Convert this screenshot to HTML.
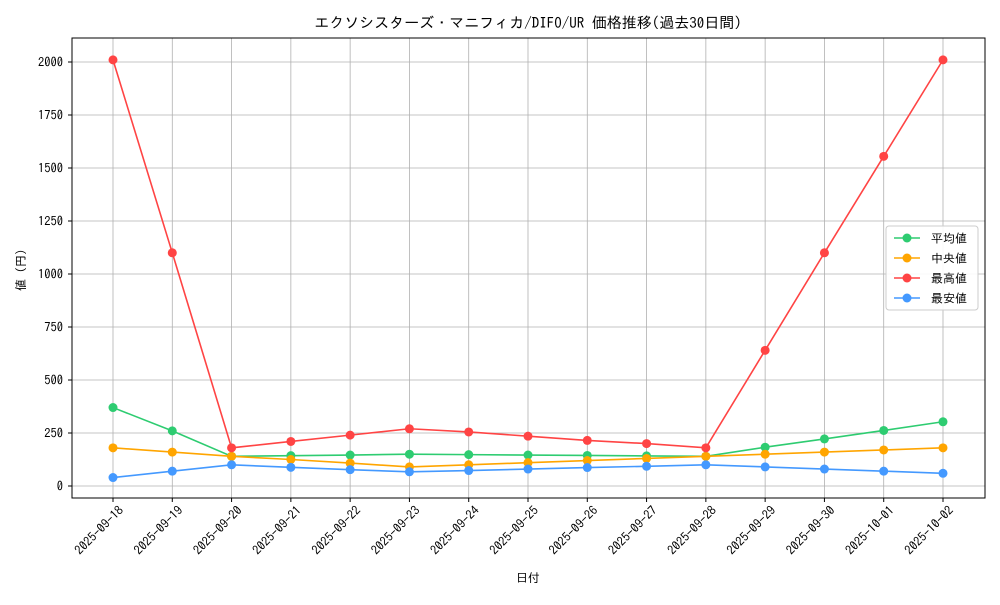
<!DOCTYPE html>
<html><head><meta charset="utf-8"><style>
body{margin:0;background:#fff;}
svg text{font-family:"IPAGothic","Liberation Sans","Noto Sans CJK JP",sans-serif;fill:#000;}
</style></head><body>
<svg id="chart" width="1000" height="600" xmlns="http://www.w3.org/2000/svg">
<rect width="1000" height="600" fill="#fff"/>
<text x="528" y="28" font-size="15" text-anchor="middle">エクソシスターズ・マニフィカ/DIFO/UR 価格推移(過去30日間)</text>
<g id="grid"></g>
<g id="series"></g>
<rect x="72" y="38" width="913" height="460" fill="none" stroke="#000" stroke-width="1"/>
<g id="ticks"></g>
<text x="528" y="582" font-size="12" text-anchor="middle">日付</text>
<text transform="translate(25,270) rotate(-90)" font-size="12" text-anchor="middle">値 (円)</text>
<g id="legend"></g>
</svg>
<script>
const categories=["2025-09-18","2025-09-19","2025-09-20","2025-09-21","2025-09-22","2025-09-23","2025-09-24","2025-09-25","2025-09-26","2025-09-27","2025-09-28","2025-09-29","2025-09-30","2025-10-01","2025-10-02"];
const avgValues=[370,260,140,143,146,150,148,146,144,142,140,183,222,262,303];
const medianValues=[180,160,140,125,108,90,100,110,120,130,140,150,160,170,180];
const maxValues=[2010,1100,180,210,240,270,255,235,215,200,180,640,1100,1555,2010];
const minValues=[40,70,100,88,77,67,73,80,87,93,100,90,80,70,60];
const yTicks=[0,250,500,750,1000,1250,1500,1750,2000];
const seriesNames=["平均値","中央値","最高値","最安値"];
const seriesColors=["#2ecc71","#ffa500","#ff4444","#4499ff"];

const NS="http://www.w3.org/2000/svg";
function xs(i){return 113+i*(943-113)/(categories.length-1);}
function ys(v){return 486-v*(486-62)/2000;}
function mk(tag,attrs,parent){const e=document.createElementNS(NS,tag);for(const k in attrs)e.setAttribute(k,attrs[k]);parent.appendChild(e);return e;}
const grid=document.getElementById('grid'),ticks=document.getElementById('ticks'),series=document.getElementById('series'),legend=document.getElementById('legend');
categories.forEach((c,i)=>{
  const x=xs(i);
  const g=mk('line',{x1:x,x2:x,y1:38,y2:498,stroke:'#b0b0b0','stroke-width':0.8},grid);
  
  
  const t=mk('line',{x1:x,x2:x,y1:498,y2:502,stroke:'#000'},ticks);
  
  
  const l=mk('text',{transform:`translate(${x+5},${505}) rotate(-45)`,'font-size':12.5,'text-anchor':'end','dominant-baseline':'hanging'},ticks);
  l.textContent=c;
  
  
});
yTicks.forEach(v=>{
  const y=ys(v);
  const g=mk('line',{x1:72,x2:985,y1:y,y2:y,stroke:'#b0b0b0','stroke-width':0.8},grid);
  
  
  const t=mk('line',{x1:68,x2:72,y1:y,y2:y,stroke:'#000'},ticks);
  
  
  const l=mk('text',{x:63,y:y+4.5,'font-size':12.5,'text-anchor':'end'},ticks);
  l.textContent=v;
  
  
});
[avgValues,medianValues,maxValues,minValues].forEach((vals,s)=>{
  const col=seriesColors[s];
  const pts=vals.map((v,i)=>xs(i)+','+ys(v)).join(' ');
  const pl=mk('polyline',{points:pts,fill:'none',stroke:col,'stroke-width':1.6},series);
  
  
  vals.forEach((v,i)=>{
    const c=mk('circle',{cx:xs(i),cy:ys(v),r:4.5,fill:col},series);
    
    
  });
});
const lb=mk('rect',{x:886,y:226,width:92,height:84,rx:3,fill:'#fff',stroke:'#ccc','fill-opacity':0.9},legend);


seriesNames.forEach((n,s)=>{
  const y=238+s*20;
  const g=mk('g',{},legend);
  
  
  mk('line',{x1:894,x2:920,y1:y,y2:y,stroke:seriesColors[s],'stroke-width':1.6},g);
  mk('circle',{cx:907,cy:y,r:4.5,fill:seriesColors[s]},g);
  const t=mk('text',{x:931,y:y+4.5,'font-size':12},g);
  t.textContent=n;
});
</script>
</body></html>
